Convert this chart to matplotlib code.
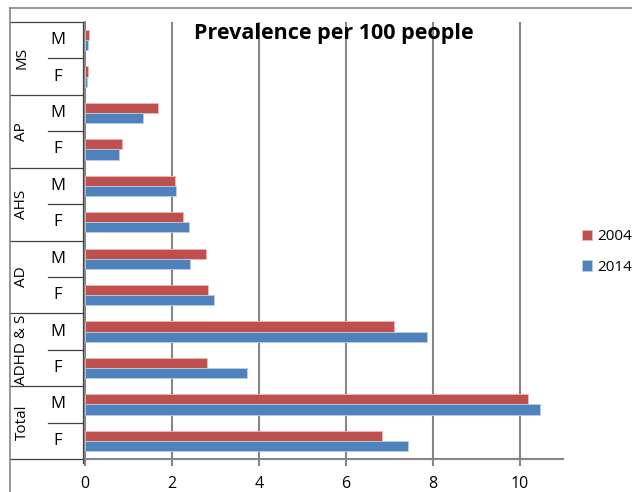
import numpy as np
import matplotlib
matplotlib.use("Agg")
import matplotlib.pyplot as plt
from matplotlib.lines import Line2D

# categories bottom -> top
groups = ["Total", "ADHD & S", "AD", "AHS", "AP", "MS"]
sexes = ["F", "M"]
vals_2004 = [6.84, 10.2, 2.81, 7.12, 2.83, 2.79, 2.26, 2.07, 0.85, 1.68, 0.07, 0.10]
vals_2014 = [7.44, 10.48, 3.73, 7.86, 2.97, 2.42, 2.40, 2.10, 0.78, 1.34, 0.05, 0.06]
xticks = [0, 2, 4, 6, 8, 10]

W, H = 632, 492
red = "#C0504D"
blue = "#4F81BD"
grid_c = "#868686"
box_c = "#404040"
plt.rcParams["font.family"] = ["Open Sans", "DejaVu Sans"]

fig = plt.figure(figsize=(W / 100, H / 100), dpi=100)
x0, x1, ytop, ybot = 85, 563, 22, 459
ax = fig.add_axes([x0 / W, (H - ybot) / H, (x1 - x0) / W, (ybot - ytop) / H])

n = len(vals_2004)
y = np.arange(n)
bh = 0.28
ax.barh(y + bh / 2, vals_2004, height=bh, color=red, edgecolor="#E6B9B8", linewidth=0.6, label="2004", zorder=3)
ax.barh(y - bh / 2, vals_2014, height=bh, color=blue, edgecolor="#B9CDE5", linewidth=0.6, label="2014", zorder=3)

ax.set_xlim(0, 11)
ax.set_ylim(-0.5, n - 0.5)
ax.set_xticks(xticks)
ax.set_xticklabels([str(t) for t in xticks], fontsize=11.5)
ax.set_yticks([])
for s in ["top", "right"]:
    ax.spines[s].set_visible(False)
for s in ["left", "bottom"]:
    ax.spines[s].set_color(grid_c)
    ax.spines[s].set_linewidth(1.5)
ax.tick_params(axis="x", length=5, width=1.5, color=grid_c, pad=7)
for t in xticks[1:]:
    ax.axvline(t, color=grid_c, linewidth=1.5, zorder=1)

# two-level category box
def px(xp):
    return (xp - x0) / (x1 - x0)

trans = ax.get_yaxis_transform()
xl, xr, xm = px(10), px(83), px(48)
for k in range(len(groups) + 1):
    yy = 2 * k - 0.5
    ax.add_line(Line2D([xl, xr], [yy, yy], transform=trans, color=box_c, lw=0.9, clip_on=False))
for k in range(len(groups)):
    yy = 2 * k + 0.5
    ax.add_line(Line2D([xm, xr], [yy, yy], transform=trans, color=box_c, lw=0.9, clip_on=False))
    ax.text(px(22), 2 * k + 0.5, groups[k], transform=trans, rotation=90,
            ha="center", va="center", fontsize=11)
for i in range(n):
    ax.text(px(58), i, sexes[i % 2], transform=trans, ha="center", va="center", fontsize=12)
ax.add_line(Line2D([xr, xr], [-0.5, n - 0.5], transform=trans, color=box_c, lw=0.9, clip_on=False))
fig.add_artist(Line2D([83 / W, 83 / W], [1 - 459 / H, 1 - 463 / H], color=box_c, lw=0.9))

# outer chart border
fig.add_artist(Line2D([10 / W, 10 / W], [0, 1 - 8 / H], color=grid_c, lw=1.2))
fig.add_artist(Line2D([10 / W, 1], [1 - 8 / H, 1 - 8 / H], color=grid_c, lw=1.2))

fig.text(334 / W, 1 - 33 / H, "Prevalence per 100 people", ha="center", va="center",
         fontsize=15.5, fontweight="bold")

ax.legend(loc="center left", bbox_to_anchor=(568 / W, 1 - 252 / H), bbox_transform=fig.transFigure,
          frameon=False, fontsize=11, handlelength=0.7, handleheight=0.7, labelspacing=1.0,
          handletextpad=0.3)

fig.savefig("out.png", dpi=100)
